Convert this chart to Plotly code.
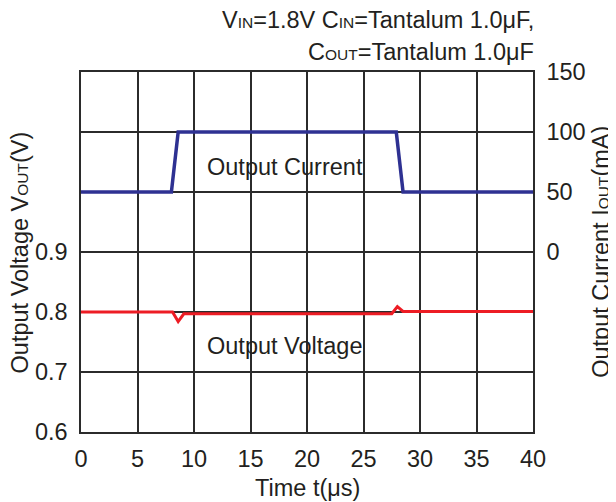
import plotly.graph_objects as go

# Data
t_current = [0, 8.0, 8.6, 27.9, 28.5, 40]
i_current = [50, 50, 100, 100, 50, 50]          # mA
t_voltage = [0, 8.1, 8.6, 9.1, 27.5, 28.0, 28.5, 40]
v_voltage = [0.800, 0.800, 0.784, 0.797, 0.797, 0.809, 0.801, 0.801]  # V

x_ticks = [0, 5, 10, 15, 20, 25, 30, 35, 40]
v_ticks = [0.6, 0.7, 0.8, 0.9]
i_tickvals = [-150, -100, -50, 0, 50, 100, 150]
i_ticktext = ["", "", "", "0", "50", "100", "150"]

FONT = "Liberation Sans, Arial, sans-serif"
TXT = "#231f20"
GRID = "#2b2b2b"
SMALL = "<span style='font-size:15.5px'>{}</span>"

fig = go.Figure()
fig.add_trace(go.Scatter(x=t_voltage, y=v_voltage, mode="lines",
                         line=dict(color="#ed1c24", width=3), yaxis="y", showlegend=False))
fig.add_trace(go.Scatter(x=t_current, y=i_current, mode="lines",
                         line=dict(color="#2e3192", width=3.5), yaxis="y2", showlegend=False))

# page body has an 8px default margin: size/margins compensate for it
fig.update_layout(
    width=608, height=494,
    margin=dict(l=73, r=83, t=64, b=70),
    paper_bgcolor="white", plot_bgcolor="white",
    font=dict(family=FONT, size=23.5, color=TXT),
    xaxis=dict(range=[0, 40], tickvals=x_ticks, showgrid=True, gridcolor=GRID, gridwidth=1.5,
               showline=True, linecolor=GRID, linewidth=1.5, mirror=True, zeroline=False,
               ticks="", ticklabelstandoff=5),
    yaxis=dict(range=[0.6, 1.2], tickvals=v_ticks, tickformat=".1f", showgrid=False,
               showline=True, linecolor=GRID, linewidth=1.5, zeroline=False, ticks="",
               ticklabelstandoff=7),
    yaxis2=dict(range=[-150, 150], tickvals=i_tickvals, ticktext=i_ticktext, overlaying="y",
                side="right", showgrid=True, gridcolor=GRID, gridwidth=1.5, showline=True,
                linecolor=GRID, linewidth=1.5, zeroline=False, ticks="", ticklabelstandoff=7),
)

anns = [
    dict(text="V" + SMALL.format("IN") + "=1.8V C" + SMALL.format("IN") + "=Tantalum 1.0μF,",
         x=1.006, y=1.144, xref="paper", yref="paper", xanchor="right", yanchor="middle",
         showarrow=False),
    dict(text="C" + SMALL.format("OUT") + "=Tantalum 1.0μF",
         x=1.006, y=1.056, xref="paper", yref="paper", xanchor="right", yanchor="middle",
         showarrow=False),
    dict(text="Output Voltage V" + SMALL.format("OUT") + "(V)", textangle=-90,
         x=-0.134, y=0.5, xref="paper", yref="paper", xanchor="center", yanchor="middle",
         showarrow=False),
    dict(text="Output Current I" + SMALL.format("OUT") + "(mA)", textangle=-90,
         x=1.15, y=0.5, xref="paper", yref="paper", xanchor="center", yanchor="middle",
         showarrow=False),
    dict(text="Time t(μs)", x=0.5, y=-0.156, xref="paper", yref="paper",
         xanchor="center", yanchor="middle", showarrow=False),
    dict(text="Output Current", x=11.0, y=71, xref="x", yref="y2",
         xanchor="left", yanchor="middle", showarrow=False),
    dict(text="Output Voltage", x=11.0, y=0.743, xref="x", yref="y",
         xanchor="left", yanchor="middle", showarrow=False),
]
fig.update_layout(annotations=anns)

fig.write_html("out.html")
